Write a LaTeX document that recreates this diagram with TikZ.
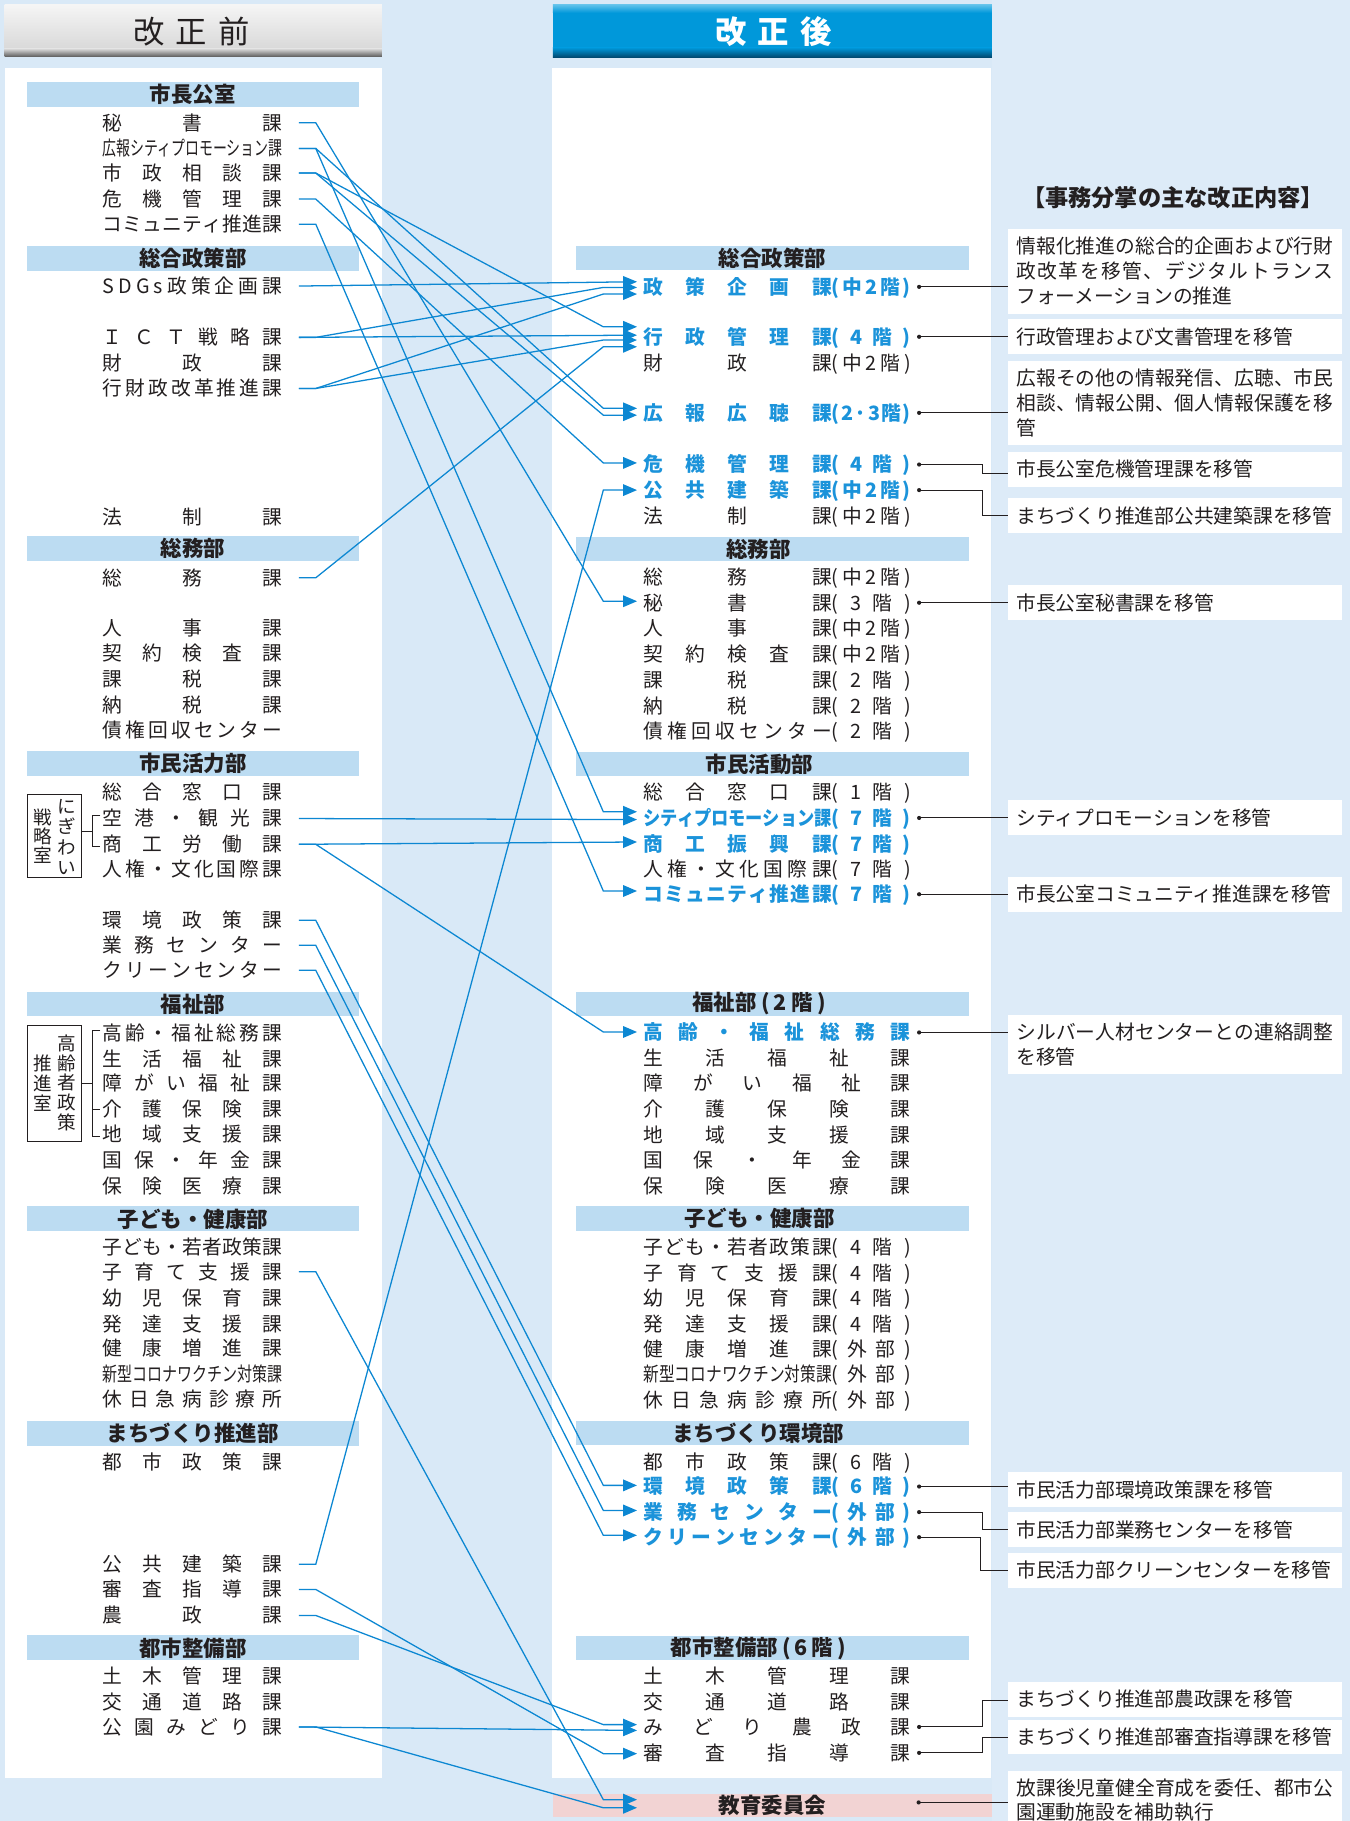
\documentclass[tikz,border=0pt]{standalone}
\usepackage{fontspec}
\setmainfont{Noto Sans CJK JP}
\usepackage{graphicx}
\usetikzlibrary{arrows.meta}
\definecolor{bgblue}{HTML}{D9E9F7}
\definecolor{rightbg}{HTML}{DDEBF8}
\definecolor{band}{HTML}{BCDCF2}
\definecolor{pinkband}{HTML}{F2D3D3}
\definecolor{cline}{HTML}{0C87D2}
\definecolor{ctext}{HTML}{1B93DA}
\definecolor{ink}{HTML}{231F20}
\definecolor{hblue}{HTML}{0098DA}
\definecolor{hbluelt}{HTML}{5CC0EA}
\definecolor{hbluedk}{HTML}{00456B}

\makeatletter
\def\spr#1{\spr@#1\@nil}
\def\spr@#1#2\@nil{#1\ifx\relax#2\relax\else\hfill\spr@#2\@nil\fi}
\makeatother

\newcommand\fs{\fontsize{17pt}{20pt}\selectfont}
\newcommand\jl[1]{\makebox[273pt][s]{\spr{#1}}}

\tikzset{
 litem/.style={anchor=west, inner sep=0pt, font=\fs, text=ink, text height=14.9pt, text depth=2.1pt},
 rblue/.style={text=ctext, font=\fs\bfseries},
 lband/.style={fill=band, minimum width=286pt, minimum height=21.5pt, inner sep=0pt},
 rband/.style={fill=band, minimum width=338.3pt, minimum height=21pt, inner sep=0pt},
 bandtext/.style={font=\fontsize{18.5pt}{18.5pt}\selectfont\bfseries, text=ink, inner sep=0pt},
 conn/.style={draw=cline, line width=1.1pt, -{Triangle[length=12pt,width=10pt]}},
 anno/.style={anchor=west, fill=white, inner xsep=7pt, inner ysep=0pt, text width=273pt, align=left, font=\fontsize{17pt}{21.3pt}\selectfont, text=ink, minimum height=30pt},
 aline/.style={draw=ink, line width=0.8pt},
 brk/.style={draw=ink, line width=0.8pt},
 vtext/.style={inner sep=0pt, align=center, text=ink},
}

% left items
\newcommand\LI[3]{\node[litem] (#1) at (88,#2) {\makebox[155pt][s]{\spr{#3}}};}
\newcommand\LC[3]{\node[litem] (#1) at (88,#2) {\resizebox{155pt}{\height}{#3}};}
% right items
\newcommand\RI[5][]{\node[litem,#1] (#2) at (554,#3) {\makebox[162pt][s]{\spr{#4}}\makebox[68pt][s]{\spr{#5}}};}
\newcommand\RC[5][]{\node[litem,#1] (#2) at (554,#3) {\resizebox{162pt}{\height}{#4}\makebox[68pt][s]{\spr{#5}}};}
\newcommand\RF[4][]{\node[litem,#1] (#2) at (554,#3) {\makebox[230pt][s]{\spr{#4}}};}
% connectors
\newcommand\cn[3]{\draw[conn] ([xshift=14pt]#1.east) -- ++(14.5pt,0) -- ([xshift=-34.5pt,yshift=#3pt]#2.west) -- ([xshift=-5.5pt,yshift=#3pt]#2.west);}
\newcommand\cs[3]{\draw[conn] ([xshift=14pt]#1.east) -- ([xshift=-5.5pt,yshift=#3pt]#2.west);}

\begin{document}
\begin{tikzpicture}[x=1pt,y=-1pt]
\useasboundingbox (0,0) rectangle (1162,1568);
\fill[bgblue] (0,0) rectangle (1162,1568);
\fill[rightbg] (854,0) rectangle (1162,1568);

% headers
\shade[top color=gray!8, bottom color=gray!30] (3.9,4.3) rectangle (328.8,42);
\shade[top color=gray!30, bottom color=black!65] (3.9,42) rectangle (328.8,49);
\fill[hblue] (476,4.3) rectangle (854,49.7);
\shade[top color=hbluelt, bottom color=hblue] (476,4.3) rectangle (854,11);
\shade[top color=hblue, bottom color=hbluedk] (476,41) rectangle (854,49.7);
\node[font=\fontsize{27pt}{27pt}\selectfont, text=ink, inner sep=0pt] (hbefore) at (165,27.3) {\makebox[100pt][s]{改\hfill 正\hfill 前}};
\node[font=\fontsize{27pt}{27pt}\selectfont\bfseries, text=white, inner sep=0pt] (hafter) at (666,27) {\makebox[100pt][s]{改\hfill 正\hfill 後}};

% panels
\fill[white] (3.9,58.7) rectangle (328.8,1531);
\fill[white] (475,58.7) rectangle (853.6,1531);

% left bands
\node[lband,bandtext] (lb1) at (166,81.1) {市長公室};
\node[lband,bandtext] (lb2) at (166,222.3) {総合政策部};
\node[lband,bandtext] (lb3) at (166,472.5) {総務部};
\node[lband,bandtext] (lb4) at (166,657.7) {市民活力部};
\node[lband,bandtext] (lb5) at (166,864.5) {福祉部};
\node[lband,bandtext] (lb6) at (166,1049.5) {子ども・健康部};
\node[lband,bandtext] (lb7) at (166,1234) {まちづくり推進部};
\node[lband,bandtext] (lb8) at (166,1419) {都市整備部};

% right bands
\node[rband] (rb1) at (665,222) {};
\node[bandtext] (rt1) at (665,222) {総合政策部};
\node[rband] (rb2) at (665,472.8) {};
\node[bandtext] (rt2) at (653,472.8) {総務部};
\node[rband] (rb3) at (665,657.9) {};
\node[bandtext] (rt3) at (654,657.9) {市民活動部};
\node[rband] (rb4) at (665,864.4) {};
\node[bandtext] (rt4) at (653.6,864.4) {\makebox[115pt][s]{福祉部\hfill(\hfill 2\hfill 階\hfill)}};
\node[rband] (rb5) at (665,1049.3) {};
\node[bandtext] (rt5) at (654,1049.3) {子ども・健康部};
\node[rband] (rb6) at (665,1233.8) {};
\node[bandtext] (rt6) at (653,1233.8) {まちづくり環境部};
\node[rband] (rb7) at (665,1419) {};
\node[bandtext] (rt7) at (653,1419) {\makebox[151pt][s]{都市整備部\hfill(\hfill 6\hfill 階\hfill)}};
\node[fill=pinkband, minimum width=377.6pt, minimum height=20.5pt, inner sep=0pt, bandtext] (kyo) at (665,1554.7) {教育委員会};

% left items
\LI{l1}{105.7}{秘書課}
\LC{l2}{127.8}{広報シティプロモーション課}
\LI{l3}{149}{市政相談課}
\LI{l4}{171.4}{危機管理課}
\LI{l5}{193}{コミュニティ推進課}
\LI{l6}{246.3}{SDGs政策企画課}
\LI{l7}{290.5}{ＩＣＴ戦略課}
\LI{l8}{312.4}{財政課}
\LI{l9}{334.5}{行財政改革推進課}
\LI{l10}{445}{法制課}
\LI{l11}{497.5}{総務課}
\LI{l12}{541}{人事課}
\LI{l13}{562.7}{契約検査課}
\LI{l14}{585}{課税課}
\LI{l15}{607}{納税課}
\LI{l16}{629}{債権回収センター}
\LI{l17}{682}{総合窓口課}
\LI{l18}{704.8}{空港・観光課}
\LI{l19}{727}{商工労働課}
\LI{l20}{748.5}{人権・文化国際課}
\LI{l21}{792.4}{環境政策課}
\LI{l22}{814}{業務センター}
\LI{l23}{835.5}{クリーンセンター}
\LI{l24}{889.5}{高齢・福祉総務課}
\LI{l25}{911.5}{生活福祉課}
\LI{l26}{933}{障がい福祉課}
\LI{l27}{955}{介護保険課}
\LI{l28}{976.8}{地域支援課}
\LI{l29}{999}{国保・年金課}
\LI{l30}{1021}{保険医療課}
\LI{l31}{1073.8}{子ども・若者政策課}
\LI{l32}{1095}{子育て支援課}
\LI{l33}{1117.7}{幼児保育課}
\LI{l34}{1139.7}{発達支援課}
\LI{l35}{1161}{健康増進課}
\LC{l36}{1183.5}{新型コロナワクチン対策課}
\LI{l37}{1205}{休日急病診療所}
\LI{l38}{1259}{都市政策課}
\LI{l39}{1347}{公共建築課}
\LI{l40}{1368.6}{審査指導課}
\LI{l41}{1391}{農政課}
\LI{l42}{1443.6}{土木管理課}
\LI{l43}{1465.7}{交通道路課}
\LI{l44}{1487}{公園みどり課}

% vertical group boxes
\node[draw=ink, line width=0.8pt, inner sep=0pt, minimum width=46.2pt, minimum height=71.5pt] (nigibox) at (46.9,719.75) {};
\node[vtext, font=\fontsize{16pt}{17.5pt}\selectfont] (nigiR) at (57.7,720.6) {に\\ぎ\\わ\\い};
\node[vtext, font=\fontsize{16pt}{16.5pt}\selectfont] (nigiL) at (36.5,720) {戦\\略\\室};
\draw[brk] (70,716.3) -- (79.6,716.3);
\draw[brk] (86.5,702.5) -| (79.6,729) -- (86.5,729);

\node[draw=ink, line width=0.8pt, inner sep=0pt, minimum width=46.2pt, minimum height=99.8pt] (koubox) at (46.9,932.9) {};
\node[vtext, font=\fontsize{16pt}{16.9pt}\selectfont] (kouR) at (57.7,932.3) {高\\齢\\者\\政\\策};
\node[vtext, font=\fontsize{16pt}{17.2pt}\selectfont] (kouL) at (36.5,933) {推\\進\\室};
\draw[brk] (koubox.east) -- (79.6,932.9);
\draw[brk] (86.5,887.5) -| (79.6,978.5) -- (86.5,978.5);
\draw[brk] (79.6,955) -- (86.5,955);

% right items
\RI[rblue]{r1}{247}{政策企画課}{(中2階)}
\RI[rblue]{r2}{290}{行政管理課}{(4階)}
\RI{r3}{312.4}{財政課}{(中2階)}
\RI[rblue]{r4}{355.5}{広報広聴課}{(2·3階)}
\RI[rblue]{r5}{400}{危機管理課}{(4階)}
\RI[rblue]{r6}{422}{公共建築課}{(中2階)}
\RI{r7}{444.5}{法制課}{(中2階)}
\RI{r8}{497}{総務課}{(中2階)}
\RI{r9}{519}{秘書課}{(3階)}
\RI{r10}{541}{人事課}{(中2階)}
\RI{r11}{563}{契約検査課}{(中2階)}
\RI{r12}{585.7}{課税課}{(2階)}
\RI{r13}{607.8}{納税課}{(2階)}
\RI{r14}{629.6}{債権回収センター}{(2階)}
\RI{r15}{682.4}{総合窓口課}{(1階)}
\RC[rblue]{r16}{704.3}{シティプロモーション課}{(7階)}
\RI[rblue]{r17}{726.4}{商工振興課}{(7階)}
\RI{r18}{748}{人権・文化国際課}{(7階)}
\RI[rblue]{r19}{770}{コミュニティ推進課}{(7階)}
\RF[rblue]{r20}{889}{高齢・福祉総務課}
\RF{r21}{910.7}{生活福祉課}
\RF{r22}{933}{障がい福祉課}
\RF{r23}{954.6}{介護保険課}
\RF{r24}{977}{地域支援課}
\RF{r25}{999}{国保・年金課}
\RF{r26}{1021}{保険医療課}
\RI{r27}{1073.8}{子ども・若者政策課}{(4階)}
\RI{r28}{1095.9}{子育て支援課}{(4階)}
\RI{r29}{1117.7}{幼児保育課}{(4階)}
\RI{r30}{1139.8}{発達支援課}{(4階)}
\RI{r31}{1161.4}{健康増進課}{(外部)}
\RC{r32}{1183.5}{新型コロナワクチン対策課}{(外部)}
\RI{r33}{1205.8}{休日急病診療所}{(外部)}
\RI{r34}{1259}{都市政策課}{(6階)}
\RI[rblue]{r35}{1280}{環境政策課}{(6階)}
\RI[rblue]{r36}{1302}{業務センター}{(外部)}
\RI[rblue]{r37}{1323.6}{クリーンセンター}{(外部)}
\RF{r38}{1443.6}{土木管理課}
\RF{r39}{1465.7}{交通道路課}
\RF{r40}{1487}{みどり農政課}
\RF{r41}{1509.3}{審査指導課}

% annotation title and boxes
\node[font=\fontsize{20pt}{20pt}\selectfont\bfseries, text=ink, inner sep=0pt] (title) at (1010,170) {【事務分掌の主な改正内容】};
\node[anno, minimum height=73pt] (a1) at (868,233.5) {\jl{情報化推進の総合的企画および行財}\\\jl{政改革を移管、デジタルトランス}\\フォーメーションの推進};
\node[anno] (a2) at (868,290) {行政管理および文書管理を移管};
\node[anno, minimum height=72pt] (a3) at (868,347) {\jl{広報その他の情報発信、広聴、市民}\\\jl{相談、情報公開、個人情報保護を移}\\管};
\node[anno] (a4) at (868,404) {市長公室危機管理課を移管};
\node[anno] (a5) at (868,444) {まちづくり推進部公共建築課を移管};
\node[anno] (a6) at (868,519) {市長公室秘書課を移管};
\node[anno] (a7) at (868,704) {シティプロモーションを移管};
\node[anno] (a8) at (868,770) {市長公室コミュニティ推進課を移管};
\node[anno, minimum height=51pt] (a9) at (868,899.5) {\jl{シルバー人材センターとの連絡調整}\\を移管};
\node[anno] (a10) at (868,1282.6) {市民活力部環境政策課を移管};
\node[anno] (a11) at (868,1317) {市民活力部業務センターを移管};
\node[anno] (a12) at (868,1352) {市民活力部クリーンセンターを移管};
\node[anno] (a13) at (868,1463) {まちづくり推進部農政課を移管};
\node[anno] (a14) at (868,1495.7) {まちづくり推進部審査指導課を移管};
\node[anno, minimum height=51pt] (a15) at (868,1550) {\jl{放課後児童健全育成を委任、都市公}\\園運動施設を補助執行};

% annotation dots
\coordinate (d1) at ([xshift=7pt]r1.east);
\coordinate (d2) at ([xshift=7pt]r2.east);
\coordinate (d4) at ([xshift=7pt]r4.east);
\coordinate (d5) at ([xshift=7pt]r5.east);
\coordinate (d6) at ([xshift=7pt]r6.east);
\coordinate (d9) at ([xshift=7pt]r9.east);
\coordinate (d16) at ([xshift=7pt]r16.east);
\coordinate (d19) at ([xshift=7pt]r19.east);
\coordinate (d20) at ([xshift=7pt]r20.east);
\coordinate (d35) at ([xshift=7pt]r35.east);
\coordinate (d36) at ([xshift=7pt]r36.east);
\coordinate (d37) at ([xshift=7pt]r37.east);
\coordinate (d40) at ([xshift=7pt]r40.east);
\coordinate (d41) at ([xshift=7pt]r41.east);
\coordinate (dk) at (791,1552);
\foreach \d in {d1,d2,d4,d5,d6,d9,d16,d19,d20,d35,d36,d37,d40,d41,dk} \fill[ink] (\d) circle (1.8pt);
\draw[aline] (d1) -- (a1.west |- d1);
\draw[aline] (d2) -- (a2.west |- d2);
\draw[aline] (d4) -- (a3.west |- d4);
\draw[aline] (d9) -- (a6.west |- d9);
\draw[aline] (d16) -- (a7.west |- d16);
\draw[aline] (d19) -- (a8.west |- d19);
\draw[aline] (d20) -- (a9.west |- d20);
\draw[aline] (d35) -- (a10.west |- d35);
\draw[aline] (dk) -- (a15.west |- dk);
\draw[aline] (d5) -| ([xshift=-22pt,yshift=-3.5pt]a4.west) -- ([yshift=-3.5pt]a4.west);
\draw[aline] (d6) -| ([xshift=-22pt]a5.west) -- (a5.west);
\draw[aline] (d36) -| ([xshift=-22pt]a11.west) -- (a11.west);
\draw[aline] (d37) -| ([xshift=-24pt]a12.west) -- (a12.west);
\draw[aline] (d40) -| ([xshift=-22pt,yshift=-1pt]a13.west) -- ([yshift=-1pt]a13.west);
\draw[aline] (d41) -| ([xshift=-22pt]a14.west) -- (a14.west);

% blue connectors
\cn{l1}{r9}{1.3}
\cn{l2}{r16}{5.3}
\cn{l2}{r4}{3.9}
\cn{l3}{r2}{8.6}
\cn{l3}{r4}{-2}
\cn{l4}{r5}{1.4}
\cn{l5}{r19}{2.8}
\cs{l6}{r1}{4.4}
\cn{l7}{r1}{-0.5}
\cs{l7}{r2}{1.4}
\cn{l9}{r1}{-6.2}
\cn{l9}{r2}{-2.8}
\cn{l11}{r2}{-8.6}
\cn{l39}{r6}{0}
\cs{l18}{r16}{-1.4}
\cs{l19}{r17}{1.4}
\cn{l19}{r20}{0.4}
\cn{l21}{r35}{1}
\cn{l22}{r36}{1.4}
\cn{l23}{r37}{1.6}
\cn{l40}{r41}{-0.7}
\cn{l41}{r40}{2}
\cs{l44}{r40}{-3}
\draw[conn] ([xshift=14pt]l32.east) -- ++(14.5pt,0) -- ([xshift=43.5pt,yshift=5.1pt]kyo.west) -- ([xshift=72.5pt,yshift=5.1pt]kyo.west);
\draw[conn] ([xshift=14pt]l44.east) -- ++(14.5pt,0) -- ([xshift=43.5pt,yshift=-1.9pt]kyo.west) -- ([xshift=72.5pt,yshift=-1.9pt]kyo.west);
\end{tikzpicture}
\end{document}
